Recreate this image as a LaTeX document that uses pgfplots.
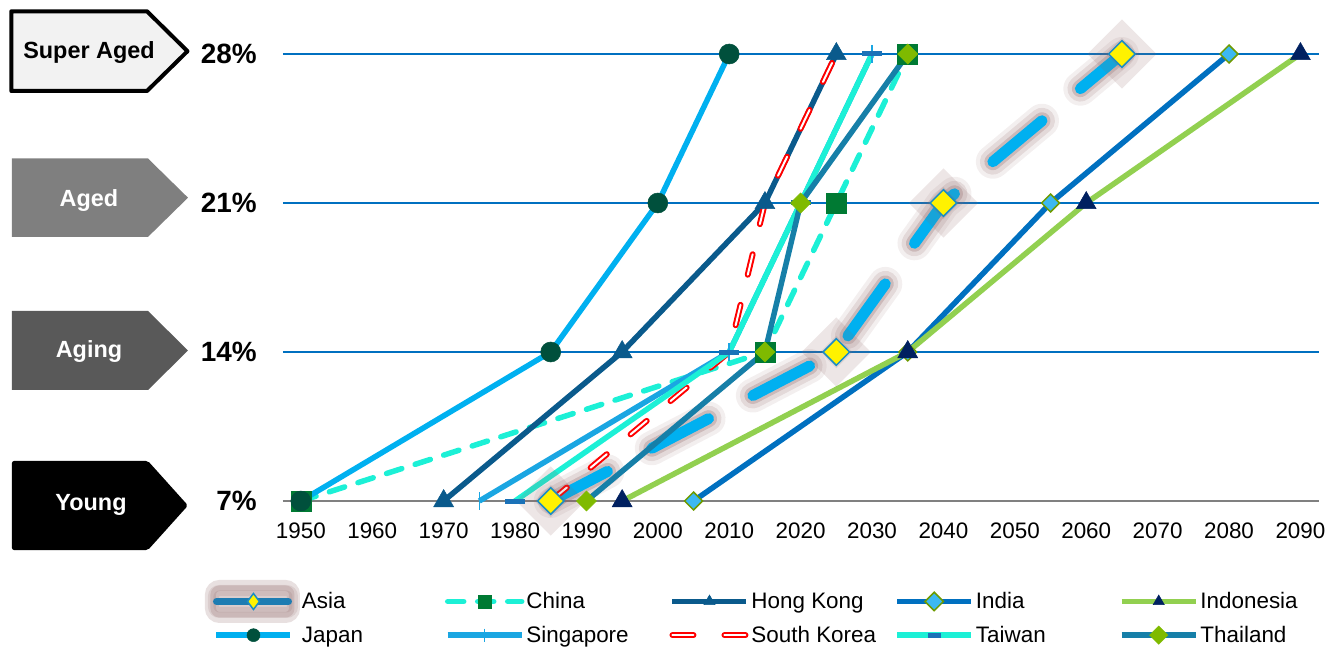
\documentclass[border=0pt]{standalone}
\usepackage{pgfplots}
\pgfplotsset{compat=1.18}
\usepackage{fontspec}
\setmainfont{Liberation Sans}
\definecolor{japanL}{HTML}{00B0F0}
\definecolor{japanM}{HTML}{00503C}
\definecolor{turq}{HTML}{1CF0D6}
\definecolor{chinaM}{HTML}{007A33}
\definecolor{hk}{HTML}{0A5A8C}
\definecolor{indiaL}{HTML}{0070C0}
\definecolor{indiaM}{HTML}{3CB8F2}
\definecolor{indiaE}{HTML}{6E9A00}
\definecolor{indoL}{HTML}{92D050}
\definecolor{indoM}{HTML}{002060}
\definecolor{sing}{HTML}{1AA6E2}
\definecolor{twM}{HTML}{1B72B8}
\definecolor{thL}{HTML}{167FA8}
\definecolor{thM}{HTML}{7FBA00}
\definecolor{asiaL}{HTML}{00B0F0}
\definecolor{asiaE}{HTML}{1A8CC4}
\definecolor{asiaLeg}{HTML}{1D7CB2}
\definecolor{glow}{HTML}{8E6666}
\definecolor{gridc}{HTML}{0070C0}
\definecolor{agedF}{HTML}{7F7F7F}
\definecolor{agingF}{HTML}{595959}
\definecolor{superF}{HTML}{F2F2F2}
\newcommand{\legtxt}[1]{\makebox[143bp][l]{#1}}
\pgfplotstableread{
x y
1985 7
2025 14
2040 21
2065 28
}\asiadata
\begin{document}
\begin{tikzpicture}
\path[use as bounding box] (-283bp,-148bp) rectangle (1056bp,501bp);
\begin{axis}[
  at={(0,0)}, anchor=south west,
  scale only axis, width=1036bp, height=447bp,
  xmin=1947.5, xmax=2092.6, ymin=7, ymax=28,
  clip=false,
  axis x line*=bottom, axis y line*=left,
  x axis line style={draw=gray, line width=2.5bp, -},
  y axis line style={draw=none},
  major tick length=0pt,
  ymajorgrids, grid style={draw=gridc, line width=1.5bp},
  xtick={1950,1960,...,2090},
  xticklabel style={font=\fontsize{22.5}{26}\selectfont, /pgf/number format/1000 sep={}, /pgf/number format/assume math mode=true, inner sep=0pt, anchor=north, yshift=-22bp},
  ytick={7,14,21,28}, yticklabels={7\%,14\%,21\%,28\%},
  yticklabel style={font=\bfseries\fontsize{28}{30}\selectfont, inner sep=0pt, anchor=east, xshift=-26bp},
  legend columns=5,
  legend cell align=left,
  legend image code/.code={\draw[mark repeat=2,mark phase=2,#1] plot coordinates {(0bp,0bp) (37bp,0bp) (74bp,0bp)};},
  legend image post style={mark size=6.5bp},
  legend style={at={(-0.0753,-0.1767)}, anchor=north west, draw=none, fill=none, inner sep=0pt, outer sep=0pt,
    font=\fontsize{22.5}{26}\selectfont, nodes={inner sep=0pt},
    /tikz/every odd column/.append style={column sep=2bp},
    /tikz/row sep=3bp},
]
% Asia glow (same data, drawn beneath)
\addplot[forget plot, draw=glow, opacity=0.10, line width=34bp, dash pattern=on 64bp off 50bp, line cap=round] table {\asiadata};
\addplot[forget plot, draw=glow, opacity=0.16, line width=26bp, dash pattern=on 64bp off 50bp, line cap=round,
  mark=square*, mark size=11.5bp, mark options={solid, rotate=45, draw=none, fill=glow}] table {\asiadata};
\addplot[forget plot, draw=glow, opacity=0.28, line width=17bp, dash pattern=on 64bp off 50bp, line cap=round] table {\asiadata};
% Asia
\addplot[color=asiaL, line width=11bp, dash pattern=on 64bp off 50bp, line cap=round,
  mark=square*, mark size=9.4bp,
  mark options={solid, rotate=45, fill=yellow, draw=asiaE, line width=1.5bp},
  legend image code/.code={
    \fill[glow, opacity=0.2, rounded corners=9bp, solid] (-6bp,-16bp) rectangle (78bp,16bp);
    \fill[glow, opacity=0.16, rounded corners=6bp, solid] (-3bp,-11bp) rectangle (76bp,11bp);
    \draw[solid, line width=7bp, color=asiaLeg, line cap=round] (0bp,0bp) -- (72bp,0bp);
    \filldraw[solid, fill=yellow, draw=asiaE, line width=1.5bp] (37bp,8bp) -- (43bp,0bp) -- (37bp,-8bp) -- (31bp,0bp) -- cycle;
  }]
  table {\asiadata};
\addlegendentry{\legtxt{Asia}}
% China
\addplot[color=turq, line width=5.5bp, dash pattern=on 16bp off 14bp, line cap=round,
  mark=square*, mark size=10bp, mark options={solid, fill=chinaM, draw=chinaM, line width=0.5bp}]
  coordinates {(1950,7) (2015,14) (2025,21) (2035,28)};
\addlegendentry{\legtxt{China}}
% Hong Kong
\addplot[color=hk, line width=5.5bp, mark=triangle*, mark size=11.5bp, mark options={solid, fill=hk, draw=hk, line width=0.5bp}]
  coordinates {(1970,7) (1995,14) (2015,21) (2025,28)};
\addlegendentry{\legtxt{Hong Kong}}
% India
\addplot[color=indiaL, line width=5.5bp, mark=square*, mark size=6.3bp, mark options={solid, rotate=45, fill=indiaM, draw=indiaE, line width=1.5bp}]
  coordinates {(2005,7) (2035,14) (2055,21) (2080,28)};
\addlegendentry{\legtxt{India}}
% Indonesia
\addplot[color=indoL, line width=5.5bp, mark=triangle*, mark size=11.5bp, mark options={solid, fill=indoM, draw=indoM, line width=0.5bp}]
  coordinates {(1995,7) (2035,14) (2060,21) (2090,28)};
\addlegendentry{\legtxt{Indonesia}}
% Japan
\addplot[color=japanL, line width=5.5bp, mark=*, mark size=10bp, mark options={solid, fill=japanM, draw=japanM, line width=0.5bp}]
  coordinates {(1950,7) (1985,14) (2000,21) (2010,28)};
\addlegendentry{\legtxt{Japan}}
% Singapore
\addplot[color=sing, line width=5.5bp, mark=|, mark size=9bp, mark options={solid, draw=sing, line width=1.5bp}]
  coordinates {(1975,7) (2010,14) (2020,21) (2030,28)};
\addlegendentry{\legtxt{Singapore}}
% South Korea
\addplot[draw=red, double=white, double distance=2bp, line width=2bp, dash pattern=on 21bp off 31bp, line cap=round]
  coordinates {(1985,7) (2010,14) (2015,21) (2025,28)};
\addlegendentry{\legtxt{South Korea}}
% Taiwan
\addplot[color=turq, line width=5.5bp, mark=-, mark size=10bp, mark options={solid, draw=twM, line width=5bp}]
  coordinates {(1980,7) (2010,14) (2020,21) (2030,28)};
\addlegendentry{\legtxt{Taiwan}}
% Thailand
\addplot[color=thL, line width=5.5bp, mark=square*, mark size=7.1bp, mark options={solid, rotate=45, fill=thM, draw=thM, line width=0.5bp}]
  coordinates {(1990,7) (2015,14) (2020,21) (2035,28)};
\addlegendentry{\legtxt{Thailand}}
\end{axis}
% stage boxes
\tikzset{stage/.style={font=\bfseries\fontsize{23.5}{26}\selectfont, anchor=base}}
\draw[line width=4bp, line join=round, fill=superF] (-271.7bp,489.7bp) -- (-136bp,489.7bp) -- (-95.5bp,449.8bp) -- (-136bp,410bp) -- (-271.7bp,410bp) -- cycle;
\node[stage, text=black] at (-194bp,442.3bp) {Super Aged};
\fill[agedF] (-271bp,342.5bp) -- (-135bp,342.5bp) -- (-95bp,303.3bp) -- (-135bp,264.1bp) -- (-271bp,264.1bp) -- cycle;
\node[stage, text=white] at (-194bp,294.2bp) {Aged};
\fill[agingF] (-271bp,190bp) -- (-135bp,190bp) -- (-95bp,150.5bp) -- (-135bp,111bp) -- (-271bp,111bp) -- cycle;
\node[stage, text=white] at (-194bp,143.8bp) {Aging};
\fill[black, rounded corners=2bp] (-271bp,40bp) -- (-135bp,40bp) -- (-95bp,-4.5bp) -- (-135bp,-49bp) -- (-271bp,-49bp) -- cycle;
\node[stage, text=white] at (-192bp,-9.2bp) {Young};
\end{tikzpicture}
\end{document}
